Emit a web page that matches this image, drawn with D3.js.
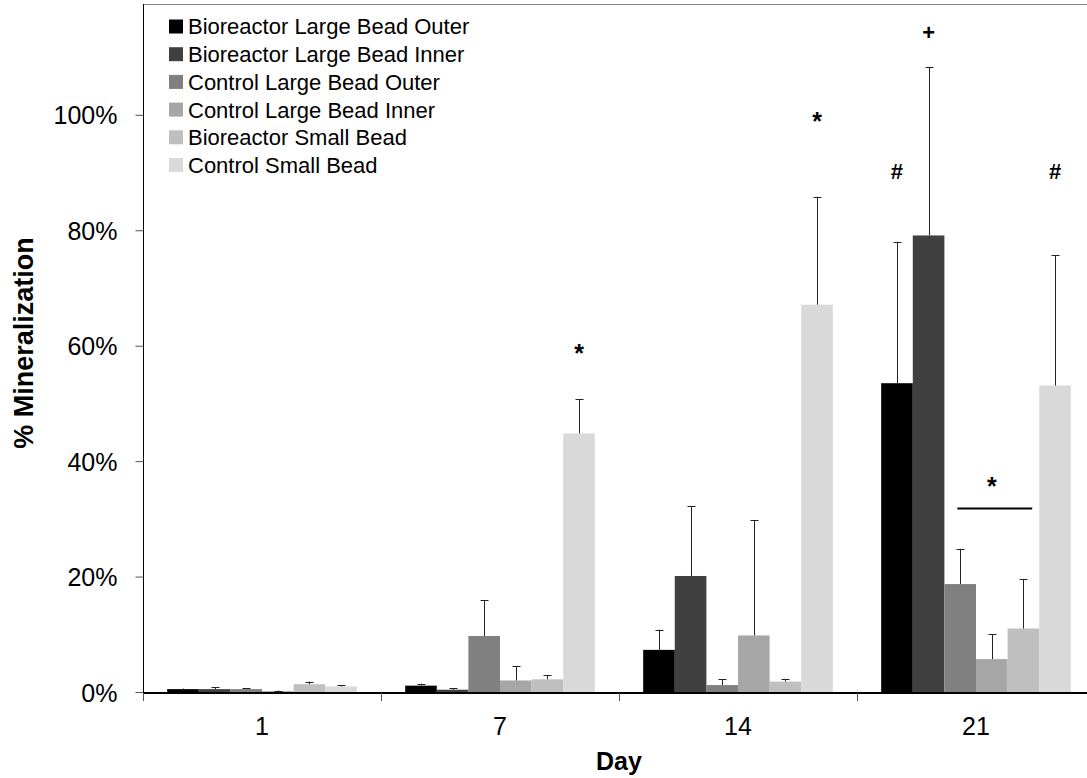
<!doctype html>
<meta charset='utf-8' />
<script src='https://cdn.jsdelivr.net/npm/d3@7/dist/d3.min.js'></script>
<style>
    body { margin: 0; background: #fff; }
    text { font-family: 'Liberation Sans', Arial, sans-serif; }
</style>
<svg></svg>
<script>
    var width = 1087,
        height = 778,
        plotLeft = 143,
        plotRight = 1095,
        plotTop = 4,
        plotBottom = 692

    var days = ['1', '7', '14', '21']
    var series = [
        'Bioreactor Large Bead Outer',
        'Bioreactor Large Bead Inner',
        'Control Large Bead Outer',
        'Control Large Bead Inner',
        'Bioreactor Small Bead',
        'Control Small Bead'
    ]
    var colors = ['#000000', '#404040', '#808080', '#a6a6a6', '#bfbfbf', '#d9d9d9']

    // mean % per day, one array per series (in series order)
    var means = [
        [0.5, 1.1, 7.3, 53.5],
        [0.5, 0.4, 20.1, 79.1],
        [0.5, 9.7, 1.2, 18.7],
        [0.15, 2.0, 9.8, 5.7],
        [1.35, 2.2, 1.8, 11.0],
        [0.95, 44.8, 67.1, 53.1]
    ]
    var errors = [
        [0.1, 0.35, 3.5, 24.5],
        [0.3, 0.3, 12.1, 29.2],
        [0.2, 6.2, 1.0, 6.1],
        [0.1, 2.5, 20.0, 4.3],
        [0.45, 0.75, 0.5, 8.5],
        [0.2, 5.9, 18.7, 22.6]
    ]
    var yTicks = [0, 20, 40, 60, 80, 100]
    var yMax = 119.2

    // significance marks: symbol, day, series index, height in %
    var marks = [
        { t: '*', day: '7', s: 5, v: 59.7 },
        { t: '*', day: '14', s: 5, v: 99.9 },
        { t: '#', day: '21', s: 0, v: 90.2 },
        { t: '+', day: '21', s: 1, v: 114.4 },
        { t: '#', day: '21', s: 5, v: 90.2 },
        { t: '*', day: '21', s: 3, v: 36.7 }
    ]
    var bracket = { day: '21', from: 2, to: 4, v: 31.8 }

    var svg = d3.select('svg')
        .attr('width', width)
        .attr('height', height)

    var x0 = d3.scaleBand().domain(days).range([plotLeft, plotRight])
    var x1 = d3.scaleBand().domain(d3.range(series.length))
        .range([0, x0.bandwidth()])
        .paddingInner(0)
        .paddingOuter(0.765)
    var y = d3.scaleLinear().domain([0, yMax]).range([plotBottom, plotTop])

    var bars = []
    series.forEach(function (s, i) {
        days.forEach(function (d, j) {
            bars.push({ s: i, day: d, v: means[i][j], e: errors[i][j] })
        })
    })

    // top frame line
    svg.append('line')
        .attr('x1', plotLeft).attr('x2', width)
        .attr('y1', plotTop + 0.5).attr('y2', plotTop + 0.5)
        .style('stroke', '#868686')
        .style('stroke-width', 1)

    svg.selectAll('rect.bar')
        .data(bars)
        .enter()
        .append('rect')
        .attr('class', 'bar')
        .attr('x', d => x0(d.day) + x1(d.s))
        .attr('width', x1.bandwidth())
        .attr('y', d => y(d.v))
        .attr('height', d => y(0) - y(d.v))
        .style('fill', d => colors[d.s])

    var cx = d => x0(d.day) + x1(d.s) + x1.bandwidth() / 2

    var err = svg.selectAll('g.err')
        .data(bars)
        .enter()
        .append('g')
        .attr('class', 'err')
        .style('stroke', '#222')
        .style('stroke-width', 1)
    err.append('line')
        .attr('x1', d => Math.round(cx(d)) + 0.5).attr('x2', d => Math.round(cx(d)) + 0.5)
        .attr('y1', d => y(d.v)).attr('y2', d => y(d.v + d.e))
    err.append('line')
        .attr('x1', d => Math.round(cx(d)) - 3.5).attr('x2', d => Math.round(cx(d)) + 4.5)
        .attr('y1', d => Math.round(y(d.v + d.e)) + 0.5)
        .attr('y2', d => Math.round(y(d.v + d.e)) + 0.5)

    // y axis
    var yAxis = svg.append('g')
        .attr('transform', 'translate(' + (plotLeft + 0.5) + ',0)')
        .call(d3.axisLeft(y).tickValues(yTicks).tickSize(8).tickPadding(18)
            .tickFormat(d => d + '%'))
    yAxis.select('.domain').attr('d', 'M0,' + plotTop + 'V' + plotBottom).style('stroke', '#000')
    yAxis.selectAll('.tick line').style('stroke', '#555')
    yAxis.selectAll('.tick text')
        .style('font-size', '25px')
        .style('font-family', "'Liberation Sans', Arial, sans-serif")
        .style('fill', '#000')
        .attr('dy', '0.36em')

    // x axis
    var xAxis = svg.append('g')
        .attr('transform', 'translate(0,' + (plotBottom + 1) + ')')
    xAxis.append('line')
        .attr('x1', plotLeft).attr('x2', width)
        .style('stroke', '#000')
        .style('stroke-width', 2)
    xAxis.selectAll('line.tk')
        .data(days.concat(['end']))
        .enter()
        .append('line')
        .attr('class', 'tk')
        .attr('x1', d => (d == 'end' ? plotRight : x0(d)) + 0.5)
        .attr('x2', d => (d == 'end' ? plotRight : x0(d)) + 0.5)
        .attr('y1', 0).attr('y2', 8)
        .style('stroke', '#555')
    xAxis.selectAll('text')
        .data(days)
        .enter()
        .append('text')
        .attr('x', d => x0(d) + x0.bandwidth() / 2)
        .attr('y', 42)
        .attr('text-anchor', 'middle')
        .style('font-size', '25px')
        .text(d => d)

    svg.append('text')
        .attr('x', (plotLeft + plotRight) / 2)
        .attr('y', 770)
        .attr('text-anchor', 'middle')
        .style('font-size', '25px')
        .style('font-weight', 'bold')
        .text('Day')

    svg.append('text')
        .attr('transform', 'translate(33,343) rotate(-90)')
        .attr('text-anchor', 'middle')
        .style('font-size', '27px')
        .style('font-weight', 'bold')
        .text('% Mineralization')

    // significance symbols
    svg.selectAll('text.mark')
        .data(marks)
        .enter()
        .append('text')
        .attr('class', 'mark')
        .attr('x', d => cx(d))
        .attr('y', d => y(d.v))
        .attr('dy', d => d.t == '*' ? '0.58em' : '0.36em')
        .attr('text-anchor', 'middle')
        .style('font-size', d => d.t == '*' ? '25px' : '22px')
        .style('font-weight', 'bold')
        .text(d => d.t)

    svg.append('line')
        .attr('x1', x0(bracket.day) + x1(bracket.from) + 13)
        .attr('x2', x0(bracket.day) + x1(bracket.to) + x1.bandwidth() - 7)
        .attr('y1', y(bracket.v)).attr('y2', y(bracket.v))
        .style('stroke', '#000')
        .style('stroke-width', 2)

    // legend
    var legend = svg.selectAll('g.legend')
        .data(series)
        .enter()
        .append('g')
        .attr('class', 'legend')
        .attr('transform', (d, i) => 'translate(169,' + (26.5 + i * 27.7) + ')')
    legend.append('rect')
        .attr('x', 0).attr('y', -7)
        .attr('width', 14).attr('height', 14)
        .style('fill', (d, i) => colors[i])
    legend.append('text')
        .attr('x', 19)
        .attr('dy', '0.36em')
        .style('font-size', '22px')
        .text(d => d)
</script>
